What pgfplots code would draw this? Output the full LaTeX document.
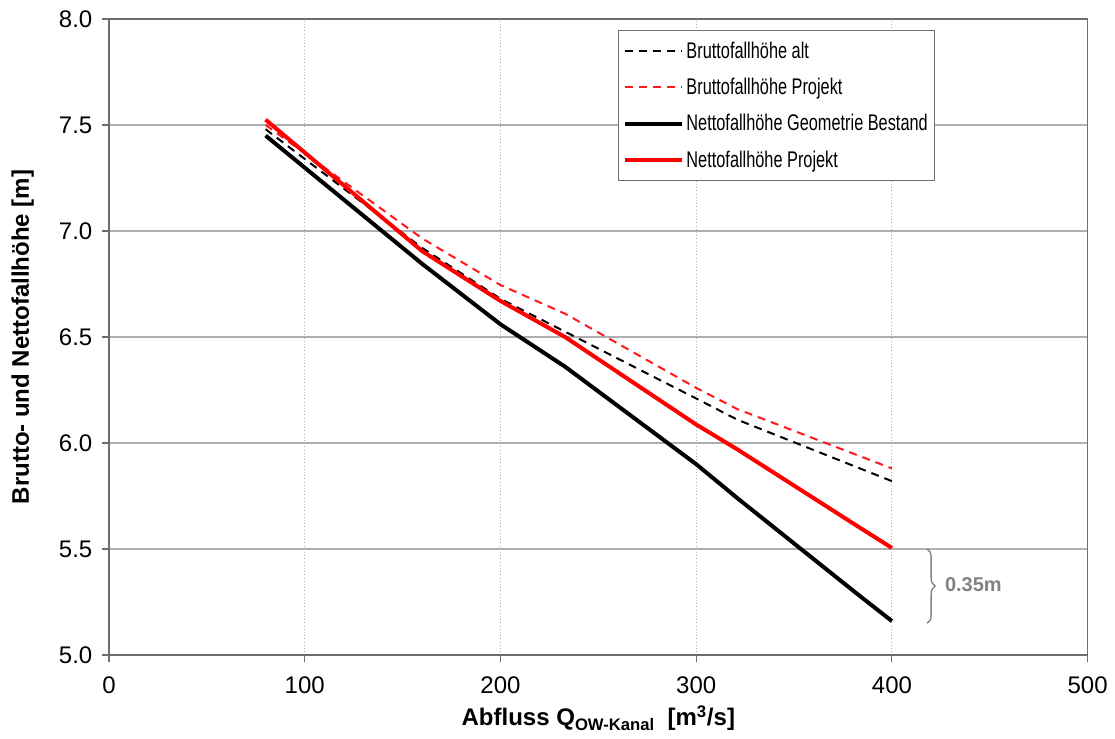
\documentclass[border=0pt]{standalone}
\usepackage{pgfplots}
\pgfplotsset{compat=1.18}
\usepackage{fontspec}
\setmainfont{Liberation Sans}
\newfontfamily\legendfont[FakeStretch=0.72]{Liberation Sans}
\usetikzlibrary{decorations.pathreplacing}
\definecolor{gridgray}{RGB}{175,175,175}
\definecolor{axgray}{RGB}{110,110,110}
\definecolor{annot}{RGB}{130,130,130}
\begin{document}
\begin{tikzpicture}
\begin{axis}[
  scale only axis,
  width=734pt, height=477pt,
  xmin=0, xmax=500, ymin=5, ymax=8,
  xtick={0,100,200,300,400,500},
  ytick={5,5.5,6,6.5,7,7.5,8},
  tick align=outside,
  tick pos=left,
  major tick length=5pt,
  tick style={axgray, line width=0.8pt},
  axis line style={axgray, line width=1pt},
  xmajorgrids, ymajorgrids,
  x grid style={gridgray, dotted, line width=0.8pt},
  y grid style={gridgray, line width=0.9pt},
  /pgf/number format/assume math mode=true,
  yticklabel style={xshift=-4pt, /pgf/number format/.cd, fixed, fixed zerofill, precision=1},
  ticklabel style={font=\fontsize{18}{20}\selectfont},
  xticklabel style={yshift=-8pt},
  xlabel={\textbf{Abfluss Q\raisebox{-0.35ex}{\fontsize{12.5}{13}\selectfont OW-Kanal} \ [m\textsuperscript{3}/s]}},
  ylabel={\textbf{Brutto- und Nettofallhöhe [m]}},
  label style={font=\fontsize{18}{20}\selectfont},
  xlabel style={yshift=-2pt},
  ylabel style={yshift=12pt},
  clip=false,
  legend cell align=left,
  legend style={at={(0.844,0.983)}, anchor=north east, draw=axgray, line width=0.8pt,
    font=\legendfont\fontsize{17}{20}\selectfont, row sep=9.5pt, inner xsep=3pt, inner ysep=6.5pt},
  legend image code/.code={\draw[#1] (0.35cm,0cm) -- (1.85cm,0cm);},
]
\addplot[black, line width=1.5pt, dash pattern=on 6pt off 4.5pt] coordinates {
 (80,7.48) (160,6.92) (200,6.68) (233,6.525) (300,6.21) (321,6.11) (400,5.82)};
\addlegendentry{Bruttofallhöhe alt}
\addplot[red!90!white, line width=1.5pt, dash pattern=on 6pt off 4.5pt] coordinates {
 (80,7.50) (160,6.965) (200,6.745) (233,6.61) (300,6.26) (321,6.16) (400,5.88)};
\addlegendentry{Bruttofallhöhe Projekt}
\addplot[black, line width=3pt] coordinates {
 (80,7.45) (160,6.845) (200,6.56) (233,6.36) (300,5.90) (321,5.74) (382,5.29) (400,5.16)};
\addlegendentry{Nettofallhöhe Geometrie Bestand}
\addplot[red, line width=3pt] coordinates {
 (80,7.525) (160,6.905) (200,6.67) (233,6.50) (300,6.087) (321,5.97) (382,5.61) (400,5.505)};
\addlegendentry{Nettofallhöhe Projekt}
\draw[annot, line width=1pt, decorate, decoration={brace, amplitude=6pt}]
  (axis cs:418,5.5) -- (axis cs:418,5.15);
\node[annot, anchor=west, inner sep=0pt, font=\fontsize{15}{17}\selectfont\bfseries] at (axis cs:427,5.33) {0.35m};
\end{axis}
\path (-81.75pt,-63pt) rectangle (754.5pt,491.25pt);
\end{tikzpicture}
\end{document}
